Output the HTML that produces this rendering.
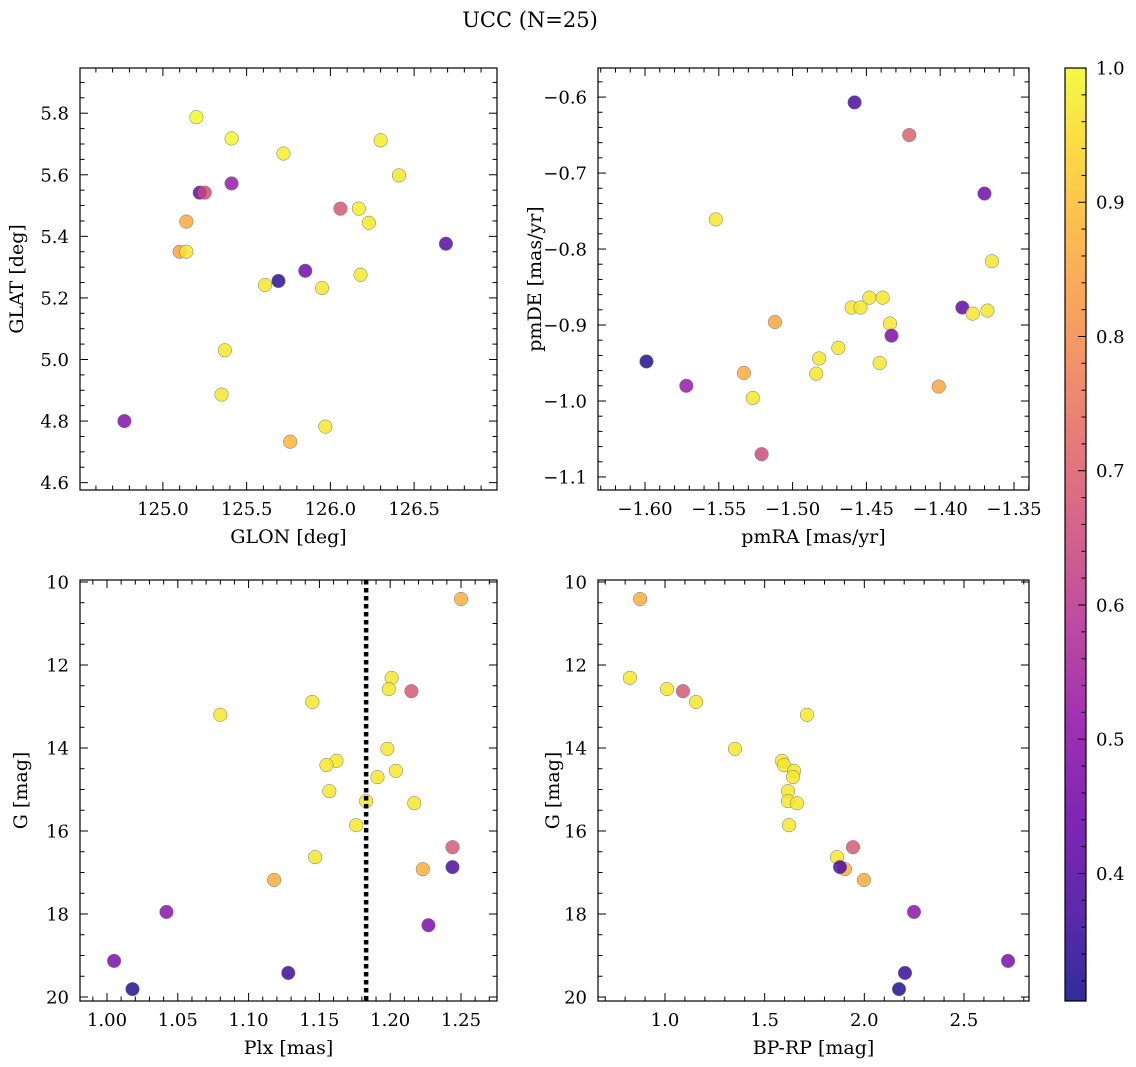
<!DOCTYPE html>
<html><head><meta charset="utf-8">
<style>
html,body{margin:0;padding:0;background:#fff;}
svg{display:block;font-family:"DejaVu Serif","Liberation Serif",serif;}
</style></head>
<body>
<svg id="fig" width="1136" height="1067" viewBox="0 0 1136 1067" xmlns="http://www.w3.org/2000/svg">
<defs>
<linearGradient id="plasma" x1="0" y1="1" x2="0" y2="0"></linearGradient>
</defs>
<text x="530" y="27" font-size="21" text-anchor="middle">UCC (N=25)</text>
</svg>
<script>
// ---------- data ----------
const glon = [125.20,125.41,125.72,126.30,126.41,125.22,125.25,125.41,126.06,126.17,126.23,125.14,125.10,125.14,126.69,125.69,125.85,125.61,125.95,126.18,125.37,125.35,124.77,125.76,125.97];
const glat = [5.787,5.718,5.669,5.712,5.598,5.542,5.542,5.572,5.49,5.49,5.444,5.448,5.35,5.35,5.376,5.255,5.288,5.242,5.232,5.275,5.03,4.886,4.80,4.733,4.782];
const probTL = [1.0,1.0,0.98,0.98,0.97,0.42,0.65,0.52,0.68,0.98,0.97,0.86,0.84,0.97,0.40,0.33,0.45,0.97,0.97,0.97,0.97,0.97,0.48,0.88,0.97];

const pmra = [-1.458,-1.421,-1.370,-1.552,-1.365,-1.448,-1.439,-1.460,-1.454,-1.385,-1.378,-1.368,-1.512,-1.434,-1.433,-1.469,-1.482,-1.441,-1.599,-1.484,-1.533,-1.401,-1.572,-1.527,-1.521];
const pmde = [-0.607,-0.650,-0.727,-0.761,-0.816,-0.864,-0.864,-0.877,-0.877,-0.877,-0.885,-0.881,-0.896,-0.898,-0.914,-0.930,-0.944,-0.950,-0.948,-0.964,-0.963,-0.981,-0.980,-0.996,-1.070];
const probTR = [0.38,0.70,0.45,0.97,0.97,0.97,0.97,0.97,0.97,0.42,0.97,0.97,0.85,0.97,0.47,0.97,0.97,0.97,0.32,0.97,0.86,0.85,0.52,0.97,0.65];

const plx = [1.250,1.201,1.199,1.215,1.080,1.145,1.198,1.162,1.155,1.204,1.191,1.157,1.183,1.217,1.176,1.147,1.244,1.223,1.244,1.118,1.042,1.227,1.005,1.128,1.018];
const gmag = [10.41,12.31,12.58,12.63,13.20,12.89,14.02,14.31,14.41,14.55,14.70,15.04,15.28,15.33,15.86,16.63,16.39,16.92,16.87,17.18,17.95,18.27,19.13,19.42,19.81];
const probBL = [0.87,0.97,0.97,0.68,0.97,0.97,0.97,0.97,0.97,0.97,0.97,0.97,0.97,0.97,0.97,0.97,0.68,0.87,0.38,0.86,0.50,0.47,0.47,0.35,0.32];
const plxLine = 1.183;

const bprp = [0.875,0.824,1.010,1.090,1.156,1.712,1.351,1.587,1.597,1.647,1.642,1.617,1.617,1.662,1.622,1.863,1.943,1.903,1.878,1.998,2.249,2.721,2.204,2.174];
const gmagBR = [10.41,12.31,12.58,12.63,12.89,13.20,14.02,14.31,14.41,14.55,14.70,15.04,15.28,15.33,15.86,16.63,16.39,16.92,16.87,17.18,17.95,19.13,19.42,19.81];
const probBR = [0.87,0.97,0.97,0.68,0.97,0.97,0.97,0.97,0.97,0.97,0.97,0.97,0.97,0.97,0.97,0.97,0.68,0.87,0.38,0.86,0.50,0.47,0.35,0.32];

const cbTicks = [0.4,0.5,0.6,0.7,0.8,0.9,1.0];
const vmin = 0.305, vmax = 1.0;

// ---------- helpers ----------
const NS = "http://www.w3.org/2000/svg";
const svg = document.getElementById('fig');
function mk(tag, attrs, parent){const e=document.createElementNS(NS,tag);for(const k in attrs)e.setAttribute(k,attrs[k]);(parent||svg).appendChild(e);return e;}
const stops=[[0,"#0d0887"],[0.1,"#41049d"],[0.2,"#6a00a8"],[0.3,"#8f0da4"],[0.4,"#b12a90"],[0.5,"#cc4778"],[0.6,"#e16462"],[0.7,"#f2844b"],[0.8,"#fca636"],[0.9,"#fcce25"],[1,"#f0f921"]];
function hx(h){return [1,3,5].map(i=>parseInt(h.substr(i,2),16));}
function plasma(t){t=Math.max(0,Math.min(1,t));for(let i=0;i<stops.length-1;i++){const a=stops[i],b=stops[i+1];if(t<=b[0]){const f=(t-a[0])/(b[0]-a[0]);const ca=hx(a[1]),cb=hx(b[1]);return "rgb("+ca.map((v,j)=>Math.round(v+(cb[j]-v)*f)).join(",")+")";}}return stops[10][1];}
const grad=document.getElementById('plasma');
stops.forEach(s=>mk('stop',{offset:s[0],'stop-color':s[1]},grad));
function fmt(v,d){const s=Math.abs(v).toFixed(d);return (v<-1e-9?"\u2212":"")+s;}
const TFS=18, LFS=19;

function panel(o){
  const g=mk('g',{});
  
  
  const X=v=>o.x0+(v-o.xmin)/(o.xmax-o.xmin)*(o.x1-o.x0);
  const Y=v=>o.yinv? o.y0+(v-o.ymin)/(o.ymax-o.ymin)*(o.y1-o.y0) : o.y1-(v-o.ymin)/(o.ymax-o.ymin)*(o.y1-o.y0);
  const pg=mk('g',{},g);
  
  
  if(o.vline!==undefined){
    const l=mk('line',{x1:X(o.vline),x2:X(o.vline),y1:o.y0,y2:o.y1,stroke:'#000','stroke-width':4.5,'stroke-dasharray':'4.5,3.5'},g);
    
    
  }
  o.xs.forEach((xv,i)=>{
    const c=mk('circle',{cx:X(xv),cy:Y(o.ys[i]),r:6.8,fill:plasma((o.ps[i]-vmin)/(vmax-vmin)),'fill-opacity':0.82,stroke:'#777','stroke-width':0.5},pg);
    
    
  });
  mk('rect',{x:o.x0,y:o.y0,width:o.x1-o.x0,height:o.y1-o.y0,fill:'none',stroke:'#000','stroke-width':1.2},g);
  const eps=1e-9;
  for(let v=Math.ceil(o.xmin/o.xmi-eps)*o.xmi; v<=o.xmax+eps; v+=o.xmi){
    const px=X(v); const major=Math.abs(v/o.xma-Math.round(v/o.xma))<1e-4; const L=major?8:4.5;
    mk('line',{x1:px,x2:px,y1:o.y1,y2:o.y1-L,stroke:'#000','stroke-width':1},g);
    mk('line',{x1:px,x2:px,y1:o.y0,y2:o.y0+L,stroke:'#000','stroke-width':1},g);
    if(major){const t=mk('text',{x:px,y:o.y1+25,'font-size':TFS,'text-anchor':'middle'},g);t.textContent=fmt(v,o.xd);
      
      }
  }
  for(let v=Math.ceil(o.ymin/o.ymi-eps)*o.ymi; v<=o.ymax+eps; v+=o.ymi){
    const py=Y(v); const major=Math.abs(v/o.yma-Math.round(v/o.yma))<1e-4; const L=major?8:4.5;
    mk('line',{x1:o.x0,x2:o.x0+L,y1:py,y2:py,stroke:'#000','stroke-width':1},g);
    mk('line',{x1:o.x1,x2:o.x1-L,y1:py,y2:py,stroke:'#000','stroke-width':1},g);
    if(major){const t=mk('text',{x:o.x0-11,y:py+6.5,'font-size':TFS,'text-anchor':'end'},g);t.textContent=fmt(v,o.yd);
      
      }
  }
  const xl=mk('text',{x:(o.x0+o.x1)/2,y:o.y1+53,'font-size':LFS,'text-anchor':'middle'},g);xl.textContent=o.xlabel;
  
  
  const yx=o.ylx, yc=(o.y0+o.y1)/2;
  const yl=mk('text',{x:yx,y:yc,'font-size':LFS,'text-anchor':'middle',transform:`rotate(-90 ${yx} ${yc})`},g);yl.textContent=o.ylabel;
  
  
}

panel({name:'glon-glat-panel',x0:80,x1:497,y0:68,y1:490,xmin:124.505,xmax:126.995,ymin:4.8-(482.5-420)/306.5-0.02,ymax:5.8+(113-68)/306.5,
  xs:glon,ys:glat,ps:probTL,xma:0.5,xmi:0.1,xd:1,yma:0.2,ymi:0.05,yd:1,xlabel:'GLON [deg]',ylabel:'GLAT [deg]',ylx:23});
panel({name:'pm-panel',x0:598,x1:1029,y0:68,y1:490,xmin:-1.6-(645-598)/1476,xmax:-1.35+(1029-1014)/1476,ymin:-1.1-(490-477)/758,ymax:-0.6+(97-68)/758,
  xs:pmra,ys:pmde,ps:probTR,xma:0.05,xmi:0.01,xd:2,yma:0.1,ymi:0.02,yd:1,xlabel:'pmRA [mas/yr]',ylabel:'pmDE [mas/yr]',ylx:541});
panel({name:'plx-g-panel',x0:80,x1:497,y0:580,y1:1001,xmin:1.0-(107-80)/1416,xmax:1.25+(497-461)/1416,ymin:10-(582-580)/41.5,ymax:20+(1001-997)/41.5,yinv:true,
  xs:plx,ys:gmag,ps:probBL,vline:plxLine,xma:0.05,xmi:0.01,xd:2,yma:2,ymi:0.5,yd:0,xlabel:'Plx [mas]',ylabel:'G [mag]',ylx:27});
panel({name:'cmd-panel',x0:598,x1:1029,y0:580,y1:1001,xmin:1.0-(665-598)/199.3,xmax:2.5+(1029-964)/199.3,ymin:10-(582-580)/41.5,ymax:20+(1001-997)/41.5,yinv:true,
  xs:bprp,ys:gmagBR,ps:probBR,xma:0.5,xmi:0.1,xd:1,yma:2,ymi:0.5,yd:0,xlabel:'BP-RP [mag]',ylabel:'G [mag]',ylx:559});

const cb=mk('g',{});


const cx0=1065,cx1=1086,cy0=68,cy1=1001;
mk('rect',{x:cx0,y:cy0,width:cx1-cx0,height:cy1-cy0,fill:'url(#plasma)','fill-opacity':0.85,stroke:'#000','stroke-width':1.2},cb);
const CY=v=>cy1-(v-vmin)/(vmax-vmin)*(cy1-cy0);
for(let v=0.32; v<=1.0001; v+=0.02){
  const major=Math.abs(v*10-Math.round(v*10))<1e-4;
  const py=CY(v);
  mk('line',{x1:cx1,x2:cx1-(major?8:4.5),y1:py,y2:py,stroke:'#000','stroke-width':1},cb);
}
cbTicks.forEach(v=>{
  const t=mk('text',{x:cx1+10,y:CY(v)+6.5,'font-size':TFS},cb);t.textContent=v.toFixed(1);
  
  
});
</script>
</body></html>
